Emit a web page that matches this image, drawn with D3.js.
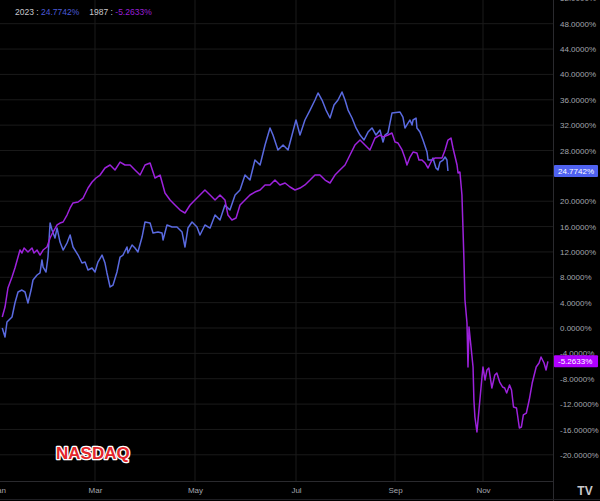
<!DOCTYPE html>
<html><head><meta charset="utf-8">
<script src="https://cdn.jsdelivr.net/npm/d3@7"></script>
<style>html,body{margin:0;padding:0;background:#000;overflow:hidden}svg{display:block}</style>
</head><body>
<svg id="c" width="600" height="501"></svg>
<script>
// ---- data ----
const monthLabels = ["Jan","Mar","May","Jul","Sep","Nov"];
const monthDays   = [0, 59, 120, 181, 243, 304];
const yTicks = [-20,-16,-12,-8,-4,0,4,8,12,16,20,24,28,32,36,40,44,48,52];
const yLabelTicks = [-20,-16,-12,-8,-4,0,4,8,12,16,20,28,32,36,40,44,48,52];

// 2023 (day of year, % change)
const days2023 = [2,3.7,4.9,8,9.8,11.7,14.1,16,17.8,19.7,20.9,23.4,25.2,26.4,27.1,28.9,30.1,31.4,32.6,34.4,35.7,37.5,39.4,41.8,43.7,45.5,48.6,51,52.9,54.7,57.2,59,60.8,63.3,65.1,66.3,68.2,70,72.4,74.3,76.1,78.5,79.1,81.6,83.4,85.2,87.7,89.5,92.6,94.4,97.4,99.9,100.5,102.9,106,109,112.1,113.9,115.7,118.2,121.2,123,
126,129.1,132.1,135.1,138.1,141.1,144.2,147.2,150.2,153.2,156.2,159.3,162.3,165.3,167.1,170.1,173.2,176.2,178.6,181,183.5,186.6,189.8,192.9,194.8,197.3,199.8,202.3,204.8,207.3,209.8,211.7,213.6,216.1,218.6,221.1,223.6,226.1,228.6,231.1,233.6,235.5,236.7,238.6,241.1,246.5,248.5,249.9,252,253.4,254.8,255.5,257.6,258.2,260.3,262.4,265.2,265.9,268.6,269.3,271.4,272.8,274.2,276.3,277.7,279,279.7];
const vals2023 = [0,-1.42,0.95,1.74,3.94,5.68,5.99,5.68,3.94,5.99,7.57,8.36,8.68,10.73,9.62,8.83,11.2,16.56,15.46,14.2,15.77,13.56,12.3,13.41,14.67,12.78,11.51,10.25,10.41,9.15,9.46,8.83,10.41,11.51,10.25,8.68,6.47,6.78,8.83,11.2,11.51,12.78,11.83,13.09,12.62,11.99,14.35,16.72,16.56,14.98,15.14,14.98,13.88,16.25,15.93,15.93,15.14,12.78,15.77,16.72,15.93,14.67,
16.25,15.77,17.82,17.03,19.4,18.61,20.98,21.77,24.13,23.34,26.5,25.71,28.86,31.55,30.44,28.08,28.86,28.08,30.44,32.81,30.44,32.81,34.38,35.96,37.07,35.96,34.38,33.12,35.17,35.96,37.22,35.96,34.38,33.12,31.55,30.44,29.65,30.91,31.55,30.44,31.23,29.34,30.44,30.76,33.91,34.07,33.28,31.55,32.33,32.81,32.02,32.81,33.12,31.55,30.91,29.65,27.76,26.5,26.5,26.81,25.24,24.92,26.18,26.5,26.97,26.5,24.7742];

// 1987 (day of year, % change)
const days1987 = [2,3.7,5.5,8,9.8,12.9,14.1,15.4,17.8,20.3,21.5,23.4,25.2,27.1,29.5,31.4,33.2,35.7,37.5,39.4,41.8,43.7,45.5,48.6,51.7,54.7,57.2,59.6,62.1,65.1,68.2,71.2,74.3,77.3,80.4,83.4,86.5,89.5,92.6,95.6,98.7,101.7,104.8,107.8,110.9,113.9,117,120,123,126,129.1,132.1,135.1,138.1,139.9,142.3,144.8,147.2,150.2,153.2,156.2,159.3,162.3,165.3,168.3,171.3,174.4,177.4,180.4,183.5,186.6,189.8,192.9,196,199.2,202.3,205.4,208.5,211.7,214.8,217.9,221.1,224.2,227.3,230.5,233.6,235.5,238.6,241.1,243,245.1,247.9,249.9,251.3,253.4,255.5,258.2,259.6,261.7,263.8,265.9,268.6,270.7,272.8,275.6,277.7,279.7,281.8,283.2,286,286.7,288,289.4,290.8,291.5,292.9,293.6,294.3,295.7,297.1,297.7,298.4,299.8,301.2,303.3,304,305.4,306.8,308.1,310.2,312.3,313.7,315.7,317.8,319.2,320.6,322.6,324,325.4,327.5,329.5,330.9,332.3,334.4,336.4,338.5,341.3,343.3,344.7,346.8,348.2,349.5];
const vals1987 = [1.74,3.31,6.31,8.04,9.46,12.3,11.83,12.62,11.99,12.62,11.83,12.3,11.51,12.3,12.78,14.2,15.14,16.25,16.56,16.72,17.82,18.93,19.72,19.87,20.5,22.08,23.03,23.66,24.13,25.24,25.71,24.92,26.18,25.71,25.71,24.92,24.13,25.71,26.03,23.66,24.13,21.29,20.19,19.4,18.61,18.14,19.4,20.19,20.98,21.77,20.98,20.19,20.98,20.19,17.82,17.03,17.35,19.4,20.19,20.98,21.45,21.77,22.56,22.56,23.34,22.56,22.87,22.24,21.77,22.08,22.56,23.34,24.13,24.13,23.34,22.87,24.13,24.92,25.71,27.29,28.86,29.65,28.86,28.08,29.97,30.44,30.13,30.44,30.76,29.34,29.18,28.08,26.81,25.71,26.97,27.76,27.6,26.5,26.5,26.03,25.24,26.5,26.81,26.81,26.81,28.08,29.65,29.97,28.39,25.71,24.45,24.61,20.98,10.73,4.42,0.79,-6.15,0.16,-3.0,-6.15,-11.36,-14.04,-16.4,-12.93,-7.73,-6.15,-8.2,-6.62,-6.31,-9.46,-7.41,-7.1,-8.52,-9.31,-9.46,-10.25,-8.99,-9.78,-12.46,-12.62,-15.77,-15.62,-13.72,-13.41,-11.36,-8.68,-6.15,-5.52,-4.57,-5.52,-6.62,-5.2633];

const seriesNames = ["2023","1987"];
const lastVals = [24.7742, -5.2633];

// ---- layout / style ----
const W = 600, H = 501, plotR = 553, plotB = 481;
const colBlue = "#5a6ae0", colPurple = "#9d22dc";
const boxBlue = "#4f62f0", boxPurple = "#b000ff";
const gridCol = "#1a1a1a", txtCol = "#a3a6ad";
const font = "'Liberation Sans', Arial, sans-serif";

const svg = d3.select("#c");
svg.append("rect").attr("width",W).attr("height",H).attr("fill","#000");

const x = d3.scaleLinear().domain([0,59,120,181,243,304,365]).range([-1,95,195,296,395,483,570]);
const y = d3.scaleLinear().domain([-20,48]).range([454.8,23.7]);

// grid
const g = svg.append("g");
g.selectAll("line.h").data(yTicks).join("line")
  .attr("x1",0).attr("x2",plotR).attr("y1",d=>y(d)).attr("y2",d=>y(d))
  .attr("stroke",gridCol).attr("stroke-width",1);
g.selectAll("line.v").data(monthDays).join("line")
  .attr("x1",d=>x(d)).attr("x2",d=>x(d)).attr("y1",0).attr("y2",plotB)
  .attr("stroke",gridCol).attr("stroke-width",1);

// borders
svg.append("line").attr("x1",plotR+0.5).attr("x2",plotR+0.5).attr("y1",0).attr("y2",H).attr("stroke","#2a2a2e");
svg.append("line").attr("x1",0).attr("x2",plotR).attr("y1",plotB+0.5).attr("y2",plotB+0.5).attr("stroke","#2a2a2e");
svg.append("line").attr("x1",0).attr("x2",W).attr("y1",H-1.5).attr("y2",H-1.5).attr("stroke","#1e1e22");

// lines
const line = d3.line().x(d=>x(d[0])).y(d=>y(d[1]));
const d2023 = d3.zip(days2023, vals2023);
const d1987 = d3.zip(days1987, vals1987);
svg.append("clipPath").attr("id","pc").append("rect").attr("width",plotR).attr("height",plotB);
svg.append("path").datum(d2023).attr("d",line).attr("fill","none").attr("stroke",colBlue)
  .attr("stroke-width",1.5).attr("stroke-linejoin","round").attr("clip-path","url(#pc)");
svg.append("path").datum(d1987).attr("d",line).attr("fill","none").attr("stroke",colPurple)
  .attr("stroke-width",1.5).attr("stroke-linejoin","round").attr("clip-path","url(#pc)");

// y axis labels
const yAxis = d3.axisRight(y).tickValues(yLabelTicks).tickSize(0).tickPadding(7)
  .tickFormat(d=>d.toFixed(4)+"%");
const ya = svg.append("g").attr("transform",`translate(${plotR},0)`).call(yAxis);
ya.select(".domain").remove();
ya.selectAll("text").attr("fill",txtCol).attr("font-family",font).attr("font-size",8);

// x axis labels
const xAxis = d3.axisBottom(x).tickValues(monthDays).tickSize(0).tickPadding(6)
  .tickFormat((d,i)=>monthLabels[i]);
const xa = svg.append("g").attr("transform",`translate(0,${plotB})`).call(xAxis);
xa.select(".domain").remove();
xa.selectAll("text").attr("fill",txtCol).attr("font-family",font).attr("font-size",8);

// last value boxes
const boxes = [[lastVals[0],boxBlue],[lastVals[1],boxPurple]];
boxes.forEach(([v,c])=>{
  const bg = svg.append("g").attr("transform",`translate(${plotR+1},${y(v)})`);
  bg.append("rect").attr("x",0).attr("y",-6).attr("width",44).attr("height",12).attr("fill",c).attr("rx",1);
  bg.append("text").attr("x",4).attr("y",3).attr("fill","#fff").attr("font-family",font)
    .attr("font-size",8).text(v.toFixed(4)+"%");
});

// legend top-left
const lg = svg.append("text").attr("x",15).attr("y",15).attr("font-family",font).attr("font-size",8.5);
lg.append("tspan").attr("fill","#c8c8cc").text(seriesNames[0]+" : ");
lg.append("tspan").attr("fill","#4a5ad8").text(lastVals[0].toFixed(4)+"%");
lg.append("tspan").attr("fill","#c8c8cc").attr("dx",10).text(seriesNames[1]+" : ");
lg.append("tspan").attr("fill","#9a1fd6").text(lastVals[1].toFixed(4)+"%");

// NASDAQ label
svg.append("text").attr("x",56).attr("y",459).attr("font-family",font).attr("font-weight","bold")
  .attr("font-size",17).attr("fill","#e3262b").attr("stroke","#fff").attr("stroke-width",2.6)
  .attr("paint-order","stroke").attr("stroke-linejoin","round").text("NASDAQ");

// TV logo
svg.append("text").attr("x",585).attr("y",495).attr("text-anchor","middle").attr("font-family",font)
  .attr("font-weight","bold").attr("font-size",12).attr("fill","#c8c8cc").text("TV");
</script>
</body></html>
